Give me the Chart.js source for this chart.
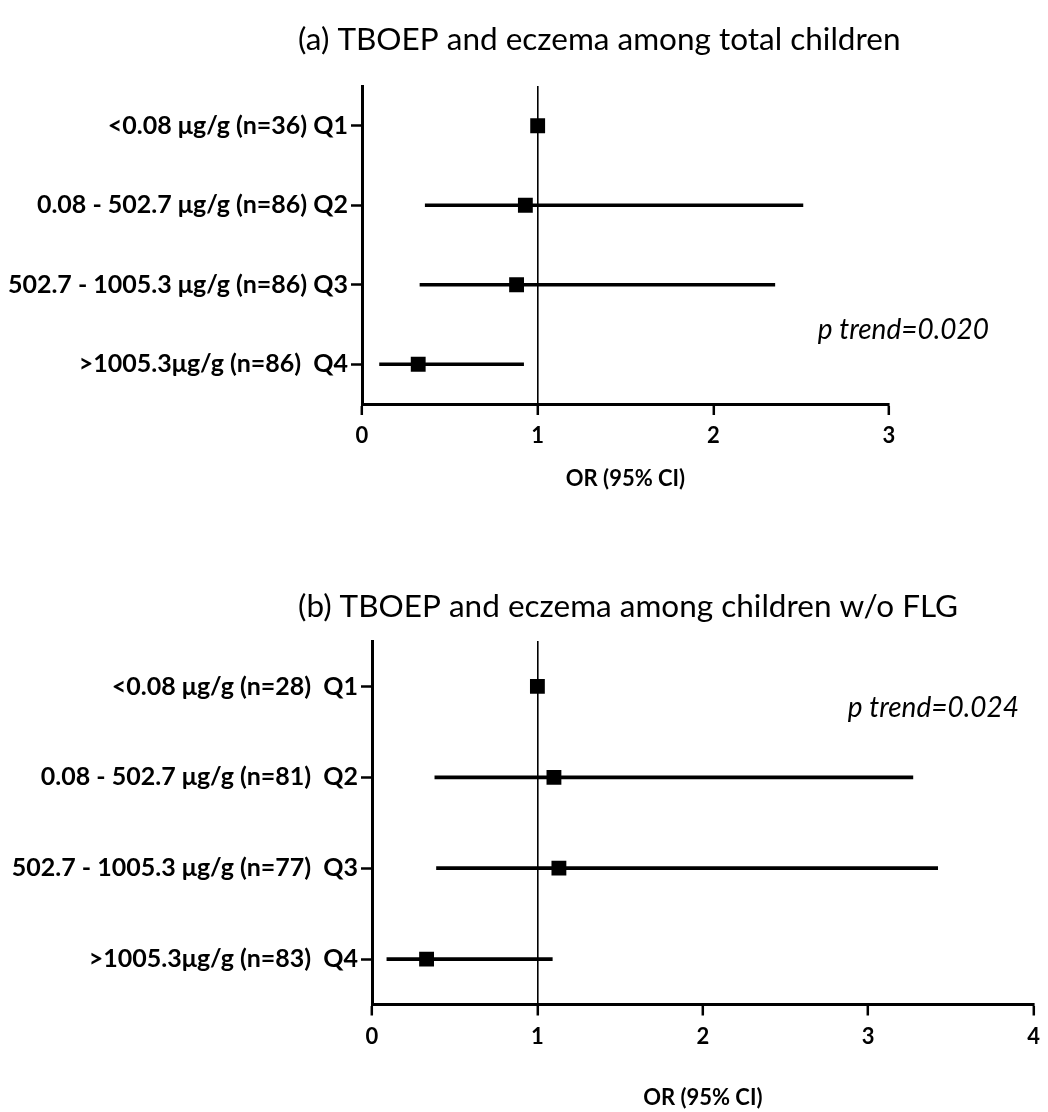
<!DOCTYPE html>
<html>
<head>
<meta charset="utf-8">
<script src="https://cdn.jsdelivr.net/npm/chart.js@4.4.1/dist/chart.umd.min.js"></script>
<style>
  body { margin: 0; background: #fff; }
  .panel { position: absolute; left: 0; width: 1048px; }
</style>
</head>
<body>
<div class="panel" style="top:0;height:540px"><canvas id="chart-a"></canvas></div>
<div class="panel" style="top:540px;height:572px"><canvas id="chart-b"></canvas></div>
<script>
// quartile rows, shared by both panels
const quartiles = ['Q1', 'Q2', 'Q3', 'Q4'];

// (a) total children
const rangesA = ['<0.08 μg/g (n=36)', '0.08 - 502.7 μg/g (n=86)', '502.7 - 1005.3 μg/g (n=86)', '>1005.3μg/g (n=86) '];
const orA = [1, 0.93, 0.88, 0.32];
const lowA = [null, 0.36, 0.33, 0.10];
const highA = [null, 2.51, 2.35, 0.92];

// (b) children w/o FLG
const rangesB = ['<0.08 μg/g (n=28) ', '0.08 - 502.7 μg/g (n=81) ', '502.7 - 1005.3 μg/g (n=77) ', '>1005.3μg/g (n=83) '];
const orB = [1, 1.10, 1.13, 0.33];
const lowB = [null, 0.38, 0.39, 0.09];
const highB = [null, 3.27, 3.42, 1.09];

const xTicks = [0, 1, 2, 3, 4];

const FONT = 'Lato';

// title + p trend text
const panelText = {
  id: 'panelText',
  afterDraw(chart, args, o) {
    const ctx = chart.ctx;
    ctx.save();
    ctx.fillStyle = '#000';
    ctx.textBaseline = 'middle';
    ctx.textAlign = 'left';
    ctx.font = '31.5px ' + FONT;
    ctx.fillText(o.title, o.titleX, o.titleY);
    ctx.textAlign = 'right';
    ctx.font = 'italic 28px ' + FONT;
    ctx.fillText(o.trend, o.trendX, o.trendY);
    ctx.restore();
  }
};

function forestChart(id, cfg) {
  return new Chart(document.getElementById(id), {
    data: {
      labels: quartiles,
      datasets: [
        {
          type: 'bar',
          data: cfg.low.map((lo, i) => lo === null ? null : [lo, cfg.high[i]]),
          backgroundColor: '#000',
          borderWidth: 0,
          barThickness: 3
        },
        {
          type: 'scatter',
          data: cfg.or.map((v, i) => ({ x: v, y: quartiles[i] })),
          pointStyle: 'rect',
          pointRadius: 10.5,
          pointHoverRadius: 10.5,
          backgroundColor: '#000',
          borderWidth: 0
        }
      ]
    },
    options: {
      indexAxis: 'y',
      responsive: true,
      maintainAspectRatio: false,
      animation: false,
      layout: { padding: { top: cfg.padTop, bottom: cfg.padBottom, left: 0, right: cfg.padRight } },
      plugins: {
        legend: { display: false },
        tooltip: { enabled: false },
        panelText: cfg.text
      },
      scales: {
        x: {
          type: 'linear',
          min: 0,
          max: cfg.xMax,
          afterBuildTicks: s => { s.ticks = xTicks.filter(t => t <= cfg.xMax).map(v => ({ value: v })); },
          ticks: { color: '#000', padding: 8, font: { family: FONT, size: 22, weight: 'bold' } },
          grid: {
            color: c => (c.tick && c.tick.value === 1) ? '#000' : 'rgba(0,0,0,0)',
            lineWidth: 1.6,
            tickColor: '#000',
            tickLength: 11,
            tickWidth: 2.5
          },
          border: { color: '#000', width: 3 },
          title: {
            display: true,
            text: 'OR (95% CI)',
            color: '#000',
            font: { family: FONT, size: 22, weight: 'bold' },
            padding: { top: 0, bottom: cfg.titlePad }
          },
          afterFit: s => { s.height = cfg.xAxisHeight; }
        },
        y: {
          type: 'category',
          offset: true,
          grid: { offset: false, drawOnChartArea: false, tickColor: '#000', tickLength: 11, tickWidth: 2.5 },
          border: { color: '#000', width: 3 },
          ticks: {
            color: '#000',
            padding: 3,
            font: { family: FONT, size: 25, weight: 'bold' },
            callback: (v, i) => cfg.ranges[i] + ' ' + quartiles[i]
          },
          afterFit: s => { s.width = cfg.yAxisWidth; }
        }
      }
    },
    plugins: [panelText]
  });
}

forestChart('chart-a', {
  ranges: rangesA, or: orA, low: lowA, high: highA, xMax: 3,
  padTop: 86, padBottom: 26, padRight: 159,
  xAxisHeight: 110, titlePad: 22, yAxisWidth: 362,
  text: { title: '(a) TBOEP and eczema among total children', titleX: 298, titleY: 40,
          trend: 'p trend=0.020', trendX: 989, trendY: 330 }
});

forestChart('chart-b', {
  ranges: rangesB, or: orB, low: lowB, high: highB, xMax: 4,
  padTop: 101, padBottom: 0.5, padRight: 9,
  xAxisHeight: 107, titlePad: 0, yAxisWidth: 372,
  text: { title: '(b) TBOEP and eczema among children w/o FLG', titleX: 298, titleY: 67,
          trend: 'p trend=0.024', trendX: 1019, trendY: 168 }
});
</script>
</body>
</html>
